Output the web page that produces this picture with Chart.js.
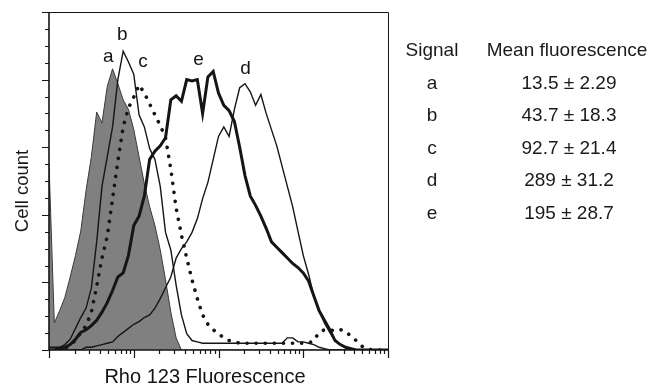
<!DOCTYPE html>
<html>
<head>
<meta charset="utf-8">
<script src="https://cdn.jsdelivr.net/npm/chart.js@4.4.0/dist/chart.umd.min.js"></script>
<style>
  html, body { margin: 0; padding: 0; background: #fff; }
  #wrap { position: relative; width: 654px; height: 384px; font-family: "Liberation Sans", Arial, sans-serif; color: #1a1a1a; }
  #chart { position: absolute; left: 0; top: 0; }
  .cell { position: absolute; transform: translate(-50%, -50%); white-space: nowrap; font-size: 19px; }
</style>
</head>
<body>
<div id="wrap">
  <canvas id="chart" width="654" height="384"></canvas>
  <div id="table"></div>
</div>
<script>
// fluorescence channel bins (1/16 decade)
const bins = [1, 1.155, 1.334, 1.540, 1.778, 2.054, 2.371, 2.738, 3.162, 3.652, 4.217, 4.870, 5.623, 6.494, 7.499, 8.660,
  10, 11.55, 13.34, 15.40, 17.78, 20.54, 23.71, 27.38, 31.62, 36.52, 42.17, 48.70, 56.23, 64.94, 74.99, 86.60,
  100, 115.5, 133.4, 154.0, 177.8, 205.4, 237.1, 273.8, 316.2, 365.2, 421.7, 487.0, 562.3, 649.4, 749.9, 866.0,
  1000, 1155, 1334, 1540, 1778, 2054, 2371, 2738, 3162, 3652, 4217, 4870, 5623, 6494, 7499, 8660, 10000];

const countsA = [138, 20, 29, 39, 54, 70, 88, 118, 143, 176, 168, 195, 208, 197, 185, 178,
  163, 143, 123, 106, 92, 74, 52, 28, 9, 0, 0, 0, 0, 0, 0, 0,
  0, 0, 0, 0, 0, 0, 0, 0, 0, 0, 0, 0, 0, 0, 0, 0,
  0, 0, 0, 0, 0, 0, 0, 0, 0, 0, 0, 0, 0, 0, 0, 0, 0];

const countsB = [2, 2, 2, 4, 8, 16, 24, 31, 46, 80, 121, 143, 165, 200, 221, 213,
  204, 174, 165, 149, 141, 121, 87, 74, 48, 26, 12, 7, 6, 5, 5, 5,
  5, 5, 5, 5, 5, 5, 5, 5, 5, 5, 5, 5, 5, 9, 9, 6,
  6, 5, 4, 2, 1, 0, 0, 0, 0, 0, 0, 0, 0, 0, 0, 0, 0];

const countsC = [0, 0, 0, 1, 4, 7, 13, 18, 28, 47, 68, 84, 112, 140, 165, 179,
  187, 196, 190, 182, 174, 166, 157, 134, 105, 85, 68, 52, 38, 26, 19, 15,
  12, 9, 7, 6, 5, 5, 5, 5, 5, 5, 5, 5, 5, 5, 5, 5,
  5, 5, 7, 13, 15, 15, 14, 15, 14, 10, 7, 3, 1, 0, 0, 0, 0];

const countsD = [0, 0, 0, 0, 0, 0, 0, 2, 2, 3, 4, 5, 6, 10, 13, 16,
  19, 21, 24, 26, 31, 38, 46, 54, 68, 75, 80, 87, 97, 112, 124, 141,
  158, 165, 158, 178, 194, 197, 191, 181, 189, 175, 163, 151, 136, 121, 106, 88,
  70, 56, 40, 29, 20, 13, 7, 4, 2, 1, 0, 0, 0, 0, 0, 0, 0];

const countsE = [0, 0, 1, 2, 4, 8, 13, 15, 18, 22, 28, 35, 44, 54, 57, 70,
  92, 99, 114, 141, 147, 151, 157, 185, 188, 184, 200, 199, 200, 175, 202, 206,
  190, 181, 177, 169, 150, 129, 114, 107, 99, 90, 80, 76, 72, 68, 64, 61,
  57, 51, 40, 29, 22, 15, 7, 4, 2, 1, 0, 0, 0, 0, 0, 0, 0];

// curve labels (data units)
const curveNames = ['a', 'b', 'c', 'e', 'd'];
const curveLabelX = [5.0, 7.3, 12.9, 58, 209];
const curveLabelY = [217, 233, 213, 215, 208];

// table on the right
const signals = ['a', 'b', 'c', 'd', 'e'];
const meanFluo = ['13.5 ± 2.29', '43.7 ± 18.3', '92.7 ± 21.4', '289 ± 31.2', '195 ± 28.7'];

const xMajor = [1, 10, 100, 1000, 10000];
const yMajor = [0, 50, 100, 150, 200, 250];

function pts(counts) {
  return bins.map((x, i) => ({ x: x, y: counts[i] }));
}

const ink = '#151515';
const font = '"Liberation Sans", Arial, sans-serif';

const decor = {
  id: 'decor',
  afterDatasetsDraw(chart) {
    const ctx = chart.ctx;
    const area = chart.chartArea;
    const xs = chart.scales.x;
    const ys = chart.scales.y;
    ctx.save();
    ctx.strokeStyle = ink;

    // frame
    ctx.lineWidth = 1;
    ctx.beginPath();
    ctx.moveTo(area.left - 7, area.top + 0.5);
    ctx.lineTo(area.right + 0.5, area.top + 0.5);
    ctx.lineTo(area.right + 0.5, area.bottom);
    ctx.stroke();

    ctx.lineWidth = 1.6;
    ctx.beginPath();
    ctx.moveTo(area.left, area.top);
    ctx.lineTo(area.left, area.bottom);
    ctx.lineTo(area.right, area.bottom);
    ctx.stroke();

    // y ticks
    ctx.lineWidth = 1.2;
    ctx.beginPath();
    for (let v = 0; v <= 250; v += 12.5) {
      const y = Math.round(ys.getPixelForValue(v)) + 0.5;
      const len = yMajor.includes(v) ? 7 : 4;
      ctx.moveTo(area.left, y);
      ctx.lineTo(area.left - len, y);
    }
    ctx.stroke();

    // x ticks (log)
    ctx.beginPath();
    for (let d = 0; d < xMajor.length; d++) {
      const x = Math.round(xs.getPixelForValue(xMajor[d])) + 0.5;
      ctx.moveTo(x, area.bottom);
      ctx.lineTo(x, area.bottom + 8);
      if (d < xMajor.length - 1) {
        for (let m = 2; m <= 9; m++) {
          const xm = Math.round(xs.getPixelForValue(m * xMajor[d])) + 0.5;
          ctx.moveTo(xm, area.bottom);
          ctx.lineTo(xm, area.bottom + 4);
        }
      }
    }
    ctx.stroke();

    // curve labels
    ctx.fillStyle = ink;
    ctx.font = '19px ' + font;
    ctx.textAlign = 'center';
    ctx.textBaseline = 'middle';
    curveNames.forEach((n, i) => {
      ctx.fillText(n, xs.getPixelForValue(curveLabelX[i]), ys.getPixelForValue(curveLabelY[i]));
    });

    // axis titles
    ctx.font = '20px ' + font;
    ctx.textBaseline = 'alphabetic';
    ctx.fillText('Rho 123 Fluorescence', 205, 383);

    ctx.font = '18.5px ' + font;
    ctx.translate(28, 191);
    ctx.rotate(-Math.PI / 2);
    ctx.fillText('Cell count', 0, 0);
    ctx.restore();
  }
};

new Chart(document.getElementById('chart'), {
  type: 'line',
  data: {
    datasets: [
      { label: 'e', data: pts(countsE), borderColor: ink, borderWidth: 3, fill: false },
      { label: 'd', data: pts(countsD), borderColor: ink, borderWidth: 1.4, fill: false },
      { label: 'b', data: pts(countsB), borderColor: ink, borderWidth: 1.4, fill: false },
      { label: 'c', data: pts(countsC), borderColor: ink, borderWidth: 3.6, borderDash: [0.1, 9], borderCapStyle: 'round', fill: false },
      { label: 'a', data: pts(countsA), borderColor: '#3a3a3a', borderWidth: 1, backgroundColor: '#808080', fill: 'origin' }
    ]
  },
  options: {
    responsive: false,
    animation: false,
    devicePixelRatio: 1,
    layout: { padding: { left: 49, top: 12, right: 266, bottom: 34 } },
    elements: { point: { radius: 0 }, line: { tension: 0 } },
    plugins: { legend: { display: false }, tooltip: { enabled: false } },
    scales: {
      x: { type: 'logarithmic', min: 1, max: 10000, display: false },
      y: { type: 'linear', min: 0, max: 250, display: false }
    }
  },
  plugins: [decor]
});

// table
const table = document.getElementById('table');
function cell(text, x, y) {
  const el = document.createElement('div');
  el.className = 'cell';
  el.textContent = text;
  el.style.left = x + 'px';
  el.style.top = y + 'px';
  table.appendChild(el);
}
cell('Signal', 432, 50);
cell('Mean fluorescence', 567, 50);
signals.forEach((s, i) => {
  cell(s, 432, 83 + i * 32.4);
  cell(meanFluo[i], 569, 83 + i * 32.4);
});
</script>
</body>
</html>
